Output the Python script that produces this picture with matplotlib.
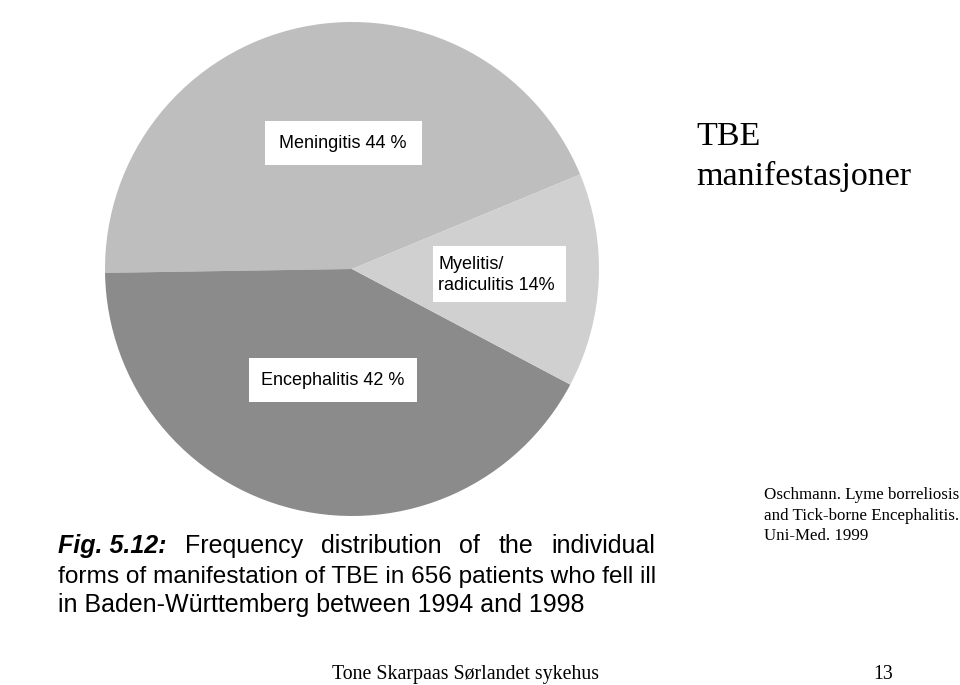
import matplotlib
matplotlib.use("Agg")
import matplotlib.pyplot as plt
from matplotlib.patches import Rectangle

# Data
labels = ["Meningitis 44 %", "Encephalitis 42 %", "Myelitis/\nradiculitis 14%"]
shares = [44, 42, 14]
colors = ["#bebebe", "#8b8b8b", "#d0d0d0"]

caption_line1 = ["Fig. 5.12:", "Frequency", "distribution", "of", "the", "individual"]
caption_line2 = "forms of manifestation of TBE in 656 patients who fell ill"
caption_line3 = "in Baden-Württemberg between 1994 and 1998"

W, H = 960, 685
fig = plt.figure(figsize=(W / 100, H / 100), dpi=100)
ax = fig.add_axes([0, 0, 1, 1])


def fy(y):
    # image y (from top) -> axes y
    return H - y


# pie, centre and radius in pixel units
ax.pie(shares, colors=colors, startangle=22.5, counterclock=True,
       center=(352, fy(269)), radius=247, frame=True,
       wedgeprops=dict(linewidth=0))
ax.set_xlim(0, W)
ax.set_ylim(0, H)
ax.axis("off")

sans = "Liberation Sans"
serif = "Liberation Serif"

# white label boxes, sized as in the scan
for (x0, y0, x1, y1) in [(265, 121, 422, 165), (433, 246, 566, 302), (249, 358, 417, 402)]:
    ax.add_patch(Rectangle((x0, fy(y1)), x1 - x0, y1 - y0, facecolor="white",
                           edgecolor="none", zorder=3))

ax.text(343, fy(143), labels[0], ha="center", va="center", fontsize=13,
        family=sans, zorder=4)
ax.text(333, fy(380), labels[1], ha="center", va="center", fontsize=13,
        family=sans, zorder=4)
ax.text(438, fy(275), labels[2], ha="left", va="center", fontsize=13,
        family=sans, linespacing=1.25, zorder=4)

# caption, first line justified between x=58 and x=655
renderer = fig.canvas.get_renderer()
words = []
for i, w in enumerate(caption_line1):
    t = ax.text(0, fy(553), w, ha="left", va="baseline", fontsize=18, family=sans,
                fontweight="bold" if i == 0 else "normal",
                fontstyle="italic" if i == 0 else "normal")
    words.append(t)
widths = [t.get_window_extent(renderer).width for t in words]
gap = (655 - 58 - sum(widths)) / (len(words) - 1)
x = 58
for t, wd in zip(words, widths):
    t.set_x(x)
    x += wd + gap

ax.text(58, fy(583), caption_line2, ha="left", va="baseline", fontsize=17.6,
        family=sans)
ax.text(58, fy(612), caption_line3, ha="left", va="baseline", fontsize=18,
        family=sans)

# slide text
ax.text(696, fy(145), "TBE", ha="left", va="baseline", fontsize=24.5, family=serif)
ax.text(696, fy(185), "manifestasjoner", ha="left", va="baseline", fontsize=24.5,
        family=serif)

ref = ["Oschmann. Lyme borreliosis", "and Tick-borne Encephalitis.", "Uni-Med. 1999"]
for i, line in enumerate(ref):
    ax.text(764, fy(499 + 20.5 * i), line, ha="left", va="baseline",
            fontsize=12.2, family=serif)

ax.text(332, fy(679), "Tone Skarpaas Sørlandet sykehus", ha="left", va="baseline",
        fontsize=14.3, family=serif)
ax.text(893, fy(679), "13", ha="right", va="baseline", fontsize=14.3, family=serif)

fig.savefig("out.png", dpi=100)
